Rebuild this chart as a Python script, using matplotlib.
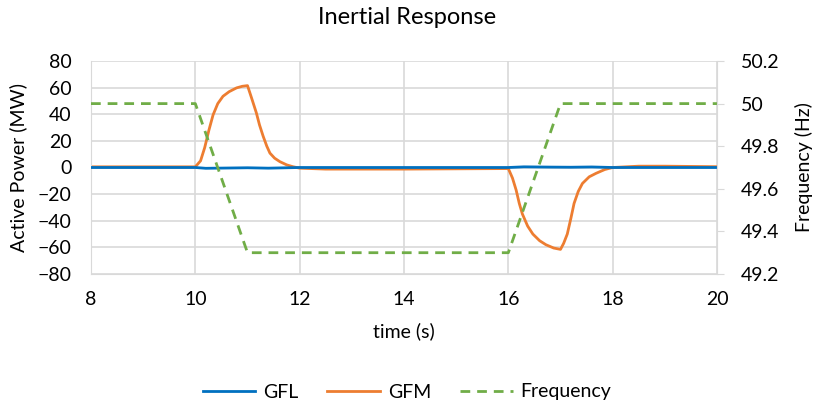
import matplotlib.pyplot as plt

plt.rcParams['font.family'] = ['Lato', 'DejaVu Sans']

# GFM active power (MW)
t_gfm = [8, 9, 10.0, 10.1, 10.18, 10.26, 10.34, 10.43, 10.53, 10.65, 10.79, 10.9, 11.0,
         11.08, 11.17, 11.23, 11.3, 11.37, 11.43, 11.52, 11.62, 11.75, 11.87, 12.0, 12.5,
         13, 14, 15, 16.0, 16.08, 16.15, 16.21, 16.27, 16.37, 16.47, 16.6, 16.72, 16.87,
         17.0, 17.06, 17.13, 17.2, 17.26, 17.34, 17.42, 17.55, 17.68, 17.85, 18.0, 18.5,
         19, 20]
p_gfm = [0.5, 0.5, 0.5, 5, 15, 28, 39.5, 48, 53.5, 57, 59.8, 61, 61.5,
         52, 41, 32, 23.5, 16, 10.8, 7, 4.4, 2, 0.6, -0.5, -1.2,
         -1.2, -1.2, -1.0, -0.8, -8, -17, -27, -35, -44, -50, -55, -58, -60.5,
         -61.5, -57, -50, -38, -27, -18, -12, -7, -4.4, -1.5, 0, 1.0,
         1.0, 0.6]

# GFL active power (MW)
t_gfl = [8, 10.0, 10.2, 10.6, 11.0, 11.4, 12.0, 16.0, 16.3, 16.8, 17.2, 17.6, 18.0, 20]
p_gfl = [0, 0, -0.6, -0.4, -0.2, -0.5, 0, 0, 0.5, 0.3, 0.2, 0.4, 0, 0]

# Frequency (Hz)
t_freq = [8, 10, 11, 16, 17, 20]
f_freq = [50, 50, 49.3, 49.3, 50, 50]

W, H = 814, 403
fig = plt.figure(figsize=(W / 100, H / 100), dpi=100)
ax = fig.add_axes([91 / W, 1 - 274 / H, 626 / W, 213 / H])
ax2 = ax.twinx()

grid_c = '#D9D9D9'
fs = 14
l1, = ax.plot(t_gfl, p_gfl, color='#0070C0', lw=2.0, label='GFL', zorder=3)
l2, = ax.plot(t_gfm, p_gfm, color='#ED7D31', lw=2.0, label='GFM', zorder=2)
l3, = ax2.plot(t_freq, f_freq, color='#70AD47', lw=2.0, ls=(0, (3.5, 2.5)), label='Frequency')

ax.set_xlim(8, 20)
ax.set_ylim(-80, 80)
ax.set_xticks(range(8, 21, 2))
ax.set_yticks(range(-80, 81, 20))
ax2.set_ylim(49.2, 50.2)
ax2.set_yticks([49.2, 49.4, 49.6, 49.8, 50, 50.2])
ax2.set_yticklabels(['49.2', '49.4', '49.6', '49.8', '50', '50.2'])

ax.grid(True, color=grid_c, lw=1.2)
ax.set_axisbelow(True)
for a in (ax, ax2):
    for s in a.spines.values():
        s.set_visible(False)
ax.spines['left'].set_visible(True)
ax.spines['bottom'].set_visible(True)
ax.spines['left'].set_color(grid_c)
ax.spines['bottom'].set_color(grid_c)
ax2.spines['right'].set_visible(True)
ax2.spines['right'].set_color(grid_c)

ax.tick_params(axis='y', length=0, labelsize=fs, pad=14)
ax.tick_params(axis='x', length=0, labelsize=fs, pad=12)
ax2.tick_params(axis='y', length=5, color=grid_c, labelsize=fs, pad=12)

fig.text(0.5, 1 - 18 / H, 'Inertial Response', fontsize=17, ha='center', va='center')
fig.text(18 / W, 1 - 167 / H, 'Active Power (MW)', fontsize=fs, rotation=90,
         ha='center', va='center')
fig.text(804 / W, 1 - 167 / H, 'Frequency (Hz)', fontsize=fs, rotation=90,
         ha='center', va='center')
fig.text(404 / W, 1 - 331 / H, 'time (s)', fontsize=fs, ha='center', va='center')

fig.legend(handles=[l1, l2, l3], loc='center', bbox_to_anchor=(0.5, 1 - 392 / H),
           ncol=3, frameon=False, fontsize=fs, handlelength=2.7, handletextpad=0.4,
           columnspacing=1.5)

fig.savefig('out.png', dpi=100)
